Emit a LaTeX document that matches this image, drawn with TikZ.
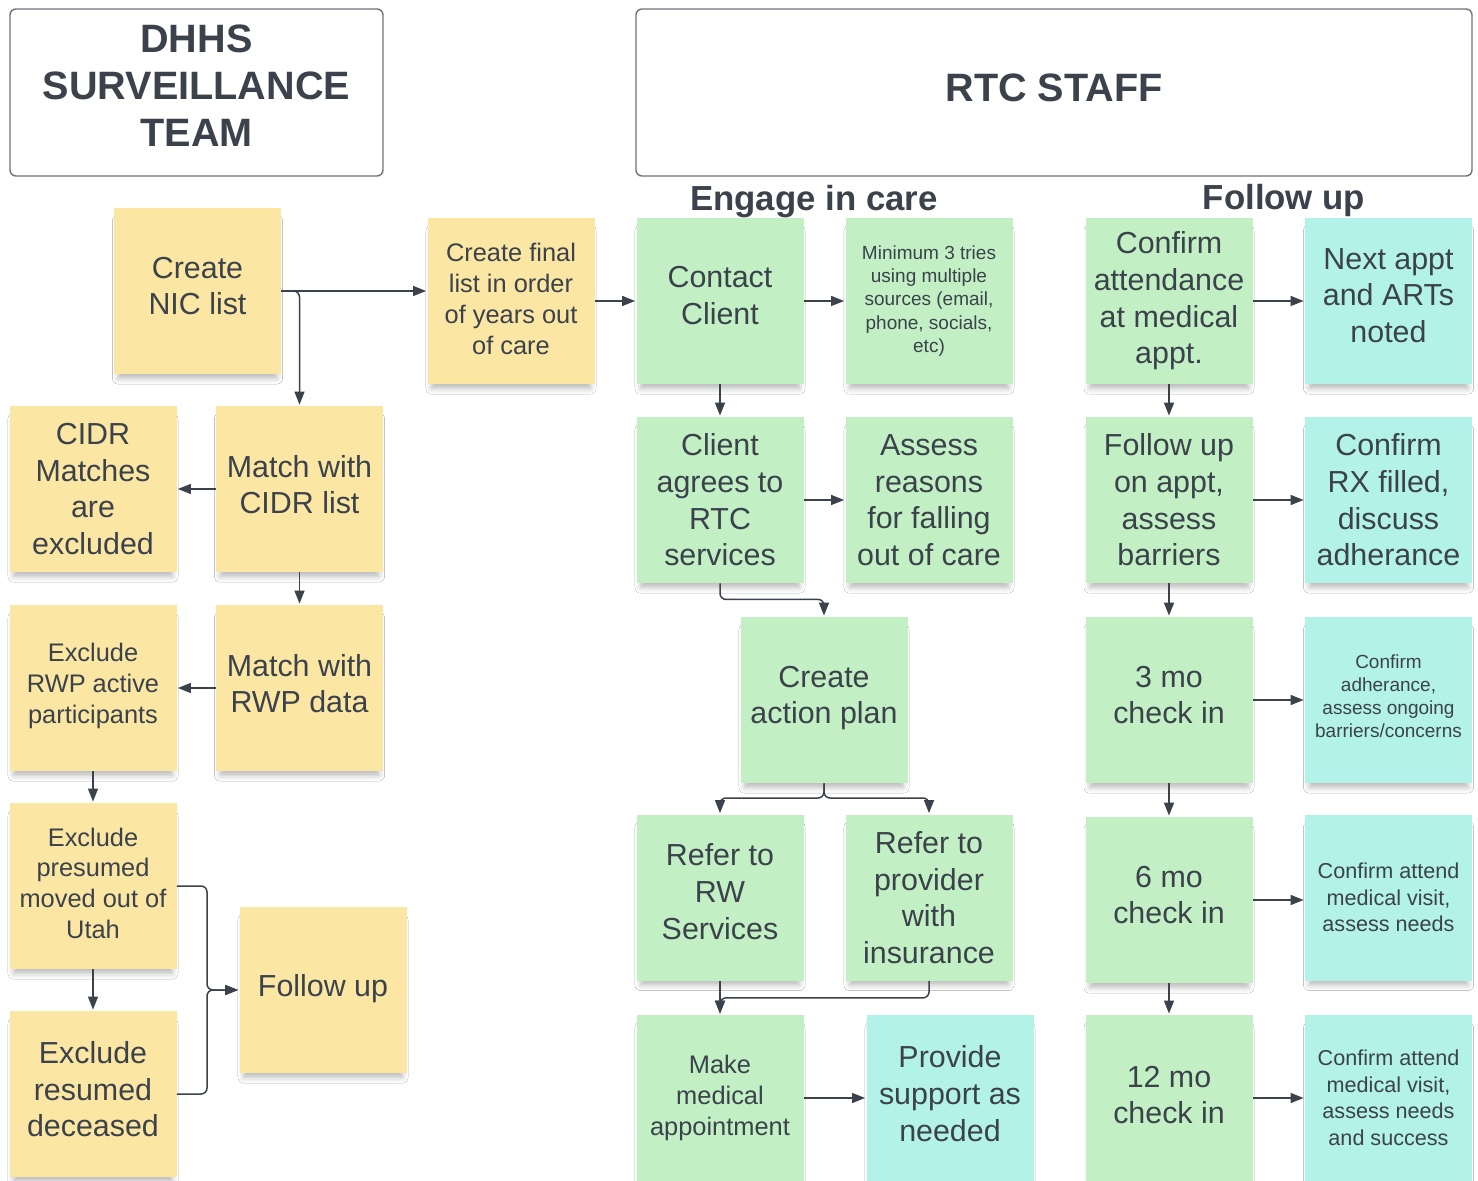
\documentclass[tikz,border=0pt]{standalone}
\usepackage{fontspec}
\setmainfont{Liberation Sans}
\usetikzlibrary{arrows.meta,shadows.blur,calc}
\definecolor{yel}{HTML}{FBE7A3}
\definecolor{grn}{HTML}{C2F0C4}
\definecolor{cyn}{HTML}{B3F2E8}
\definecolor{txt}{HTML}{3B424B}
\definecolor{ln}{HTML}{3B424B}
\definecolor{bord}{HTML}{6E747B}
\tikzset{
  note/.style={rectangle, minimum width=83.5pt, minimum height=83pt, inner sep=1pt,
    text=txt, align=center, font=\fontsize{15.2}{18.3}\selectfont,
    blur shadow={shadow xshift=0pt, shadow yshift=-4.5pt, shadow scale=0.95, shadow blur radius=3pt, shadow opacity=28}},
  ynote/.style={note, fill=yel},
  gnote/.style={note, fill=grn},
  cnote/.style={note, fill=cyn},
  lift/.style={text depth=#1},
  smtext/.style={font=\fontsize{12.7}{15.4}\selectfont},
  xstext/.style={font=\fontsize{9.5}{11.6}\selectfont},
  mdtext/.style={font=\fontsize{10.8}{13.25}\selectfont},
  header/.style={draw=bord, line width=0.7pt, rounded corners=3pt, minimum height=83.5pt,
    text=txt, align=center, font=\bfseries\fontsize{19.8}{23.5}\selectfont},
  section/.style={text=txt, font=\bfseries\fontsize{17.4}{20}\selectfont},
  arr/.style={draw=ln, line width=0.75pt, -{Triangle[length=6.5pt,width=5pt]}, shorten >=0.5pt},
  rbend/.style={rounded corners=3pt}
}
\begin{document}
\begin{tikzpicture}[x=0.5pt,y=-0.5pt]
\useasboundingbox[fill=white] (0,0) rectangle (1478,1181);

% headers
\node[header, minimum width=186.5pt, text depth=7pt] (dhhs) at (196.5,92.5) {DHHS\\SURVEILLANCE\\TEAM};
\node[header, minimum width=418pt, text depth=5pt] (rtc) at (1054,92.5) {RTC STAFF};
\node[section] (engage) at (814,202) {Engage in care};
\node[section] (fusec) at (1284,201) {Follow up};

% surveillance column
\node[ynote, lift=5pt] (nic) at (197.5,291) {Create\\NIC list};
\node[ynote, smtext, lift=2pt] (final) at (511,301) {Create final\\list in order\\of years out\\of care};
\node[ynote] (cidrx) at (93,489) {CIDR\\Matches\\are\\excluded};
\node[ynote, lift=4.5pt] (cidr) at (299.5,489) {Match with\\CIDR list};
\node[ynote, smtext, lift=4.7pt] (rwpx) at (93,688) {Exclude\\RWP active\\participants};
\node[ynote, lift=4.5pt] (rwp) at (299.5,688) {Match with\\RWP data};
\node[ynote, smtext, lift=3pt] (pres) at (93,886) {Exclude\\presumed\\moved out of\\Utah};
\node[ynote, lift=5pt] (dec) at (93,1094) {Exclude\\resumed\\deceased};
\node[ynote, lift=4.5pt] (fuy) at (323,990) {Follow up};

% engage in care
\node[gnote, lift=5.5pt] (contact) at (720,301) {Contact\\Client};
\node[gnote, xstext] (tries) at (929,301) {Minimum 3 tries\\using multiple\\sources (email,\\phone, socials,\\etc)};
\node[gnote] (agree) at (720,500) {Client\\agrees to\\RTC\\services};
\node[gnote] (assess) at (929,500) {Assess\\reasons\\for falling\\out of care};
\node[gnote, lift=5.2pt] (plan) at (824,700) {Create\\action plan};
\node[gnote, lift=6pt] (rw) at (720,897.5) {Refer to\\RW\\Services};
\node[gnote] (prov) at (929,897.5) {Refer to\\provider\\with\\insurance};
\node[gnote, smtext] (appt) at (720,1098) {Make\\medical\\appointment};
\node[cnote, lift=4.5pt] (support) at (950,1098) {Provide\\support as\\needed};

% follow up column
\node[gnote] (conf) at (1169,301) {Confirm\\attendance\\at medical\\appt.};
\node[cnote, lift=5.5pt] (next) at (1388.5,301) {Next appt\\and ARTs\\noted};
\node[gnote] (fappt) at (1169,500) {Follow up\\on appt,\\assess\\barriers};
\node[cnote] (rx) at (1388.5,500) {Confirm\\RX filled,\\discuss\\adherance};
\node[gnote, lift=5pt] (m3) at (1169,700) {3 mo\\check in};
\node[cnote, xstext, lift=4pt] (adh) at (1388.5,700) {Confirm\\adherance,\\assess ongoing\\barriers/concerns};
\node[gnote, lift=5pt] (m6) at (1169,900) {6 mo\\check in};
\node[cnote, mdtext] (cav) at (1388.5,897.5) {Confirm attend\\medical visit,\\assess needs};
\node[gnote, lift=3pt] (m12) at (1169,1098) {12 mo\\check in};
\node[cnote, mdtext] (cavs) at (1388.5,1098) {Confirm attend\\medical visit,\\assess needs\\and success};

% connectors: surveillance
\draw[arr] (nic.east) -- (nic.east -| final.west);
\draw[arr, rbend] (nic.east) -| (cidr.north);
\draw[arr] (final.east) -- (contact.west);
\draw[arr] (cidr.west) -- (cidrx.east);
\draw[arr] (cidr.south) -- (rwp.north);
\draw[arr] (rwp.west) -- (rwpx.east);
\draw[arr] (rwpx.south) -- (pres.north);
\draw[arr] (pres.south) -- (dec.north);
\coordinate (j1) at (207,990);
\draw[arr, rbend] (pres.east) -| (j1) -- (fuy.west);
\draw[arr, rbend] (dec.east) -| (j1) -- (fuy.west);

% connectors: engage
\draw[arr] (contact.east) -- (tries.west);
\draw[arr] (contact.south) -- (agree.north);
\draw[arr] (agree.east) -- (assess.west);
\draw[arr, rbend] (agree.south) -- ++(0,16) -| (plan.north);
\coordinate (j2) at (824,798);
\draw[arr, rbend] (plan.south) -- (j2) -| (rw.north);
\draw[arr, rbend] (plan.south) -- (j2) -| (prov.north);
\draw[arr] (rw.south) -- (appt.north);
\draw[arr, rbend] (prov.south) -- ++(0,17) -| (appt.north);
\draw[arr] (appt.east) -- (support.west);

% connectors: follow up
\draw[arr] (conf.east) -- (next.west);
\draw[arr] (conf.south) -- (fappt.north);
\draw[arr] (fappt.east) -- (rx.west);
\draw[arr] (fappt.south) -- (m3.north);
\draw[arr] (m3.east) -- (adh.west);
\draw[arr] (m3.south) -- (m6.north);
\draw[arr] (m6.east) -- (m6.east -| cav.west);
\draw[arr] (m6.south) -- (m12.north);
\draw[arr] (m12.east) -- (cavs.west);
\end{tikzpicture}
\end{document}
